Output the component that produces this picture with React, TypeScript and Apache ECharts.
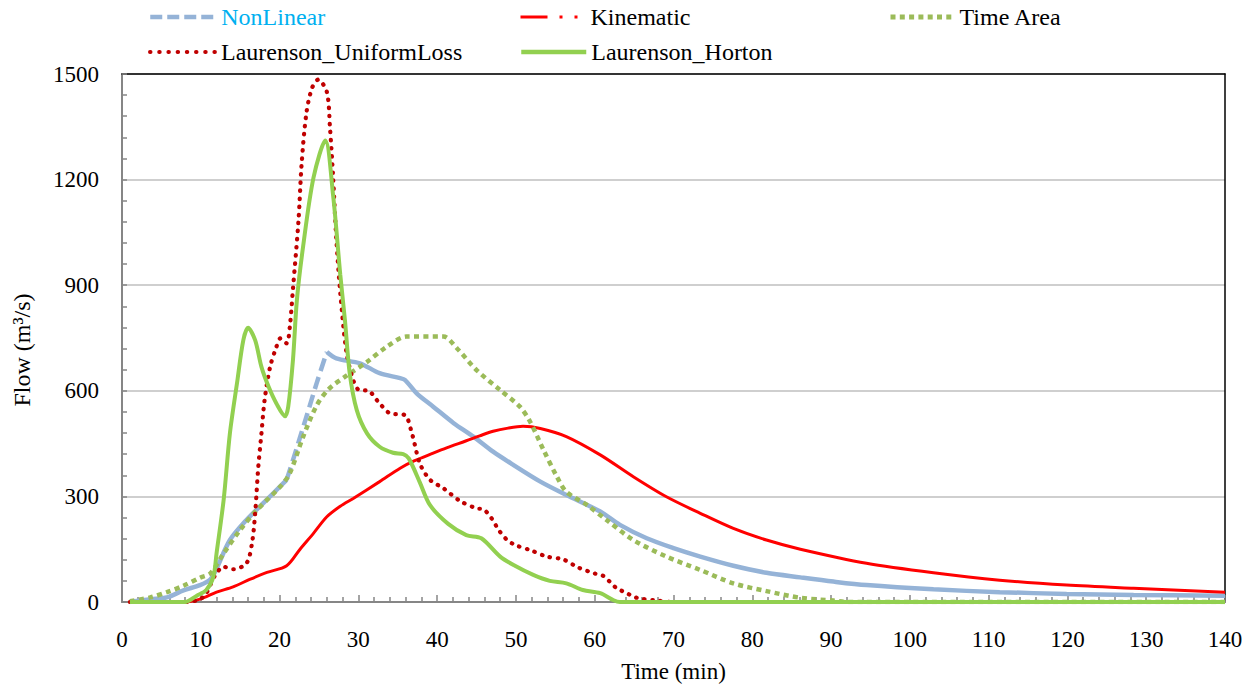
import React, { useEffect, useRef } from "react";
import * as echarts from "echarts";

const FONT = '"Liberation Serif", "Times New Roman", serif';

// Time (min) / Flow (m3/s)
const nonLinearT = [1, 3.6, 5.7, 7.8, 9.9, 11.2, 12, 13.7, 15.8, 17.9, 20.9, 21.7, 23.4, 24.7, 25.8, 26.0, 27.2, 30.2, 32.7, 35.3, 35.9, 37.4, 39.5, 42.1, 44.6, 47.1, 49.7, 53.1, 56.4, 60.7, 63.2, 66.6, 70, 73.4, 77.6, 81.8, 86.1, 90.3, 94.5, 103, 111.4, 119.9, 128.4, 140];
const nonLinearQ = [0, 8, 13, 33, 48, 64, 95, 176, 233, 280, 347, 403, 526, 621, 697, 710, 692, 678, 650, 636, 631, 593, 555, 508, 470, 427, 389, 342, 304, 257, 219, 181, 153, 129, 103, 83, 70, 58, 48, 36, 28, 23, 20, 18];

const kinematicT = [1, 7.8, 9.9, 12, 14.1, 16.2, 18.4, 20.9, 22.6, 24.3, 26, 27.7, 29.4, 32.7, 35.3, 37, 39.5, 41.2, 43.7, 45.4, 47.1, 49, 50.9, 53.1, 56.4, 60.7, 64.9, 69.1, 73.4, 77.6, 81.8, 86.1, 94.5, 103, 111.4, 119.9, 128.4, 140];
const kinematicQ = [0, 0, 8, 28, 43, 64, 84, 103, 150, 195, 242, 272, 295, 342, 380, 400, 423, 438, 458, 472, 485, 494, 499, 493, 470, 418, 356, 299, 252, 209, 176, 150, 110, 83, 62, 48, 39, 28];

const timeAreaT = [1, 3.6, 5.7, 7.8, 9.9, 11.2, 12.9, 15, 17.1, 20.1, 21.3, 23, 24.7, 26.2, 28.5, 31.1, 33.6, 36.1, 40.8, 42.5, 45, 48, 50.5, 51.8, 53.5, 55.2, 56.4, 59, 61.5, 64.9, 69.1, 73.4, 77.6, 81.8, 86.1, 90.3, 92, 140];
const timeAreaQ = [2, 13, 28, 46, 69, 81, 138, 205, 261, 328, 366, 470, 558, 604, 643, 682, 725, 754, 754, 721, 659, 602, 555, 512, 432, 356, 313, 276, 233, 176, 129, 91, 53, 31, 12, 4, 0, 0];

const uniformLossT = [1, 8.2, 9.9, 10.7, 11.8, 12.9, 14.1, 15.8, 16.5, 16.9, 17.3, 17.7, 18.1, 18.8, 19.6, 20.1, 20.9, 21.3, 21.7, 22.4, 22.8, 23.4, 24.1, 24.9, 26.0, 26.4, 26.8, 27.2, 27.7, 28.5, 29.4, 30.2, 31.1, 32.7, 34.0, 35.9, 36.8, 37.8, 39.1, 40.8, 42.9, 45.0, 45.9, 46.9, 47.8, 48.8, 49.9, 52.0, 53.9, 56.0, 57.9, 60.0, 61.1, 61.9, 62.8, 64.1, 64.9, 66.0, 67.9, 70, 140];
const uniformLossQ = [0, 0, 8, 25, 75, 100, 93, 110, 167, 252, 384, 479, 574, 668, 725, 749, 735, 782, 890, 1083, 1245, 1388, 1459, 1484, 1449, 1347, 1205, 1032, 880, 708, 627, 601, 601, 564, 536, 531, 479, 394, 347, 323, 287, 266, 263, 238, 205, 178, 162, 146, 129, 121, 98, 81, 74, 58, 39, 25, 15, 9, 4, 0, 0];

const hortonT = [1, 8, 9.5, 10.7, 11.6, 12, 12.9, 13.7, 14.6, 15.4, 16, 16.9, 17.7, 18.6, 19.6, 20.7, 21.1, 21.7, 22.2, 23, 24.3, 25.8, 26.8, 27.7, 28.3, 28.9, 29.8, 31.1, 32.7, 34.4, 35.7, 36.4, 37.8, 39.1, 41.4, 43.7, 45.6, 48, 49.7, 52.2, 54.3, 56.4, 58.5, 60.7, 62.4, 63.2, 140];
const hortonQ = [0, 0, 18, 34, 72, 138, 290, 480, 622, 744, 779, 744, 668, 612, 564, 528, 555, 688, 858, 1012, 1205, 1311, 1154, 931, 800, 650, 545, 479, 441, 424, 420, 408, 340, 275, 222, 190, 181, 129, 105, 77, 60, 53, 34, 25, 5, 0, 0];

// the rising limb of NonLinear drawn dashed (as in the reference)
const nonLinearDashFrom = 20.9;
const nonLinearDashTo = 26.0;

const xTicks = { min: 0, max: 140, interval: 10 };
const yTicks = { min: 0, max: 1500, interval: 300 };

const pairs = (t: number[], q: number[]) => t.map((x, i) => [x, q[i]]);

export default function App() {
  const ref = useRef<HTMLDivElement>(null);
  useEffect(() => {
    const chart = echarts.init(ref.current!, null, { renderer: "svg" });
    const nl = pairs(nonLinearT, nonLinearQ);
    const nlSolid = nl.map((p) => (p[0] > nonLinearDashFrom && p[0] < nonLinearDashTo ? [p[0], null] : p));
    const nlDash = nl.filter((p) => p[0] >= nonLinearDashFrom && p[0] <= nonLinearDashTo);

    const text = { fontFamily: FONT, fontSize: 23, color: "#000" };
    const legendItem = (name: string, left: number, top: number, width: number, lineStyle: any, color = "#000") => ({
      left,
      top,
      padding: 0,
      itemWidth: width,
      itemHeight: 14,
      selectedMode: false,
      data: [{ name, lineStyle, itemStyle: { opacity: 0 } }],
      lineStyle,
      itemStyle: { opacity: 0 },
      textStyle: { ...text, fontSize: 24, color },
    });

    const base = { type: "line", symbol: "none", showSymbol: false, smooth: 0.3, xAxisIndex: 0, yAxisIndex: 0 };
    const grayAxis = "#868686";

    chart.setOption({
      animation: false,
      backgroundColor: "#fff",
      textStyle: { fontFamily: FONT },
      grid: { left: 122, right: 30, top: 74, bottom: 89 },
      legend: [
        legendItem("NonLinear", 148, 5, 66, { color: "#95B3D7", width: 4.5, type: [12, 5] }, "#00B0F0"),
        legendItem("Kinematic", 519, 5, 65, { color: "#FF0000", width: 3, type: [27, 12, 3, 12, 3, 20] }),
        legendItem("Time Area", 888, 5, 64, { color: "#9BBB59", width: 5, type: [5, 4.3] }),
        legendItem("Laurenson_UniformLoss", 148, 40, 66, { color: "#C00000", width: 4, type: [0.5, 8.7], cap: "round" }),
        legendItem("Laurenson_Horton", 519, 40, 65, { color: "#92D050", width: 4.5, type: "solid" }),
      ],
      xAxis: [
        {
          type: "value",
          ...xTicks,
          position: "bottom",
          axisLine: { show: true, onZero: false, lineStyle: { color: grayAxis, width: 2 } },
          axisTick: { show: true, inside: true, length: 7, lineStyle: { color: grayAxis, width: 1.5 } },
          minorTick: { show: true, splitNumber: 5, length: 5, lineStyle: { color: grayAxis, width: 1.5 } },
          splitLine: { show: false },
          axisLabel: { ...text, margin: 26, formatter: (v: number) => String(v) },
          name: "Time (min)",
          nameLocation: "middle",
          nameGap: 58,
          nameTextStyle: { ...text },
        },
        {
          type: "value",
          ...xTicks,
          position: "top",
          axisLine: { show: true, onZero: false, lineStyle: { color: "#000", width: 1.5 } },
          axisTick: { show: false },
          axisLabel: { show: false },
          splitLine: { show: false },
        },
      ],
      yAxis: [
        {
          type: "value",
          ...yTicks,
          position: "left",
          axisLine: { show: true, onZero: false, lineStyle: { color: grayAxis, width: 2 } },
          axisTick: { show: true, inside: true, length: 5, lineStyle: { color: grayAxis, width: 1.5 } },
          minorTick: { show: true, splitNumber: 5, length: 5, lineStyle: { color: grayAxis, width: 1.5 } },
          splitLine: { show: true, lineStyle: { color: "#BFBFBF", width: 1.5 } },
          axisLabel: { ...text, margin: 23, formatter: (v: number) => String(v) },
          name: "Flow (m³/s)",
          nameLocation: "middle",
          nameGap: 88,
          nameTextStyle: { ...text, fontSize: 24, padding: [0, 24, 0, 0] },
        },
        {
          type: "value",
          ...yTicks,
          position: "right",
          axisLine: { show: true, onZero: false, lineStyle: { color: "#000", width: 1.5 } },
          axisTick: { show: false },
          axisLabel: { show: false },
          splitLine: { show: false },
        },
      ],
      series: [
        { ...base, name: "NonLinear solid", data: nlSolid, connectNulls: false, lineStyle: { color: "#95B3D7", width: 4.5 }, itemStyle: { color: "#95B3D7" } },
        { ...base, name: "NonLinear", data: nlDash, lineStyle: { color: "#95B3D7", width: 4.5, type: [13, 6] }, itemStyle: { color: "#95B3D7" } },
        { ...base, name: "Kinematic", data: pairs(kinematicT, kinematicQ), lineStyle: { color: "#FF0000", width: 3 }, itemStyle: { color: "#FF0000" } },
        { ...base, name: "Time Area", data: pairs(timeAreaT, timeAreaQ), lineStyle: { color: "#9BBB59", width: 4.5, type: [5, 4.3] }, itemStyle: { color: "#9BBB59" } },
        { ...base, name: "Laurenson_UniformLoss", data: pairs(uniformLossT, uniformLossQ), lineStyle: { color: "#C00000", width: 4.2, type: [0.5, 7.6], cap: "round" }, itemStyle: { color: "#C00000" } },
        { ...base, name: "Laurenson_Horton", data: pairs(hortonT, hortonQ), lineStyle: { color: "#92D050", width: 4 }, itemStyle: { color: "#92D050" } },
      ],
    });
    return () => chart.dispose();
  }, []);
  return <div ref={ref} style={{ position: "absolute", left: 0, top: 0, width: 1255, height: 691 }} />;
}
